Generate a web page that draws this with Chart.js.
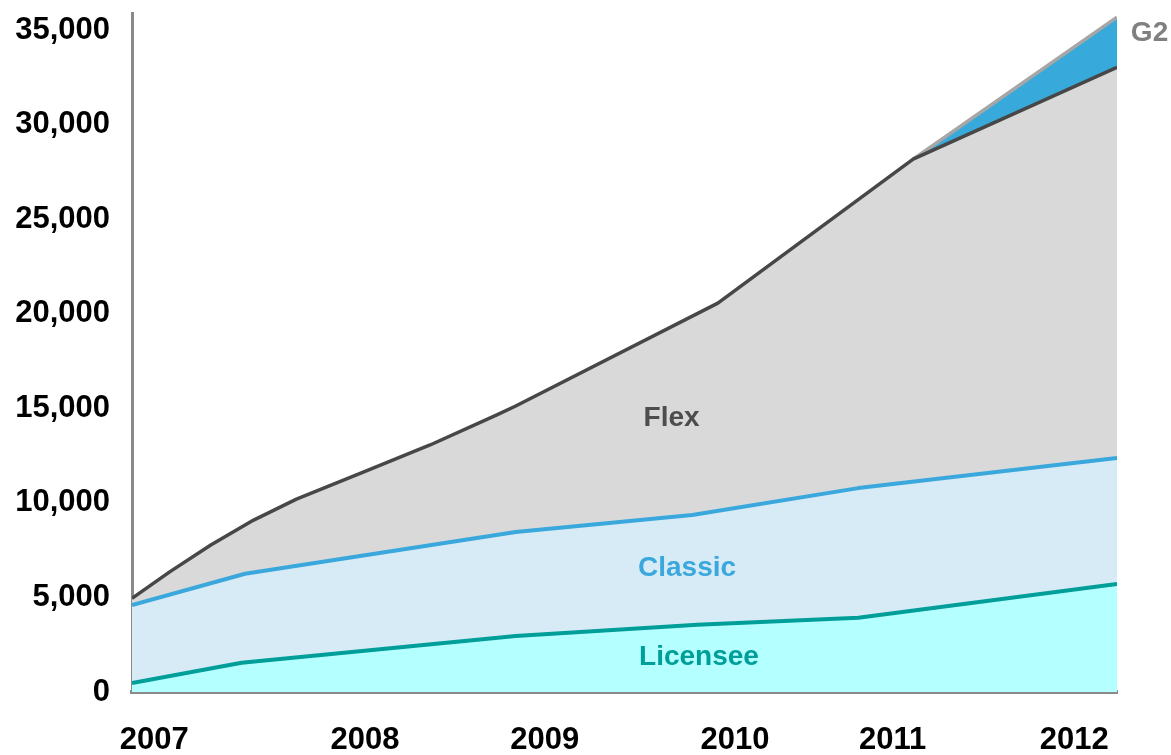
<!DOCTYPE html>
<html>
<head>
<meta charset="utf-8">
<script src="https://cdn.jsdelivr.net/npm/chart.js@4.4.1/dist/chart.umd.min.js"></script>
<style>
  html, body { margin: 0; padding: 0; background: #fff; }
  canvas { display: block; }
</style>
</head>
<body>
<canvas id="chart" width="1171" height="755"></canvas>
<script>
// x values are fractional years, y values are cumulative (top edge of each band)
const licenseeX = [2007.0, 2007.64, 2009.24, 2010.30, 2011.24, 2012.75];
const licenseeY = [480, 1550, 2960, 3560, 3930, 5710];

const classicX = [2007.0, 2007.66, 2009.24, 2010.27, 2011.24, 2012.75];
const classicY = [4600, 6250, 8460, 9355, 10780, 12370];

const flexX = [2007.0, 2007.22, 2007.46, 2007.71, 2007.96, 2008.35, 2008.74,
               2009.13, 2009.24, 2010.42, 2011.56, 2012.75];
const flexY = [4950, 6350, 7770, 9090, 10200, 11630, 13060,
               14650, 15120, 20560, 28170, 33030];

const g2X = [2011.56, 2012.75];
const g2Y = [28170, 35680];

const xTickPos = [2007.13, 2008.36, 2009.41, 2010.52, 2011.44, 2012.50];
const xTickLabels = ['2007', '2008', '2009', '2010', '2011', '2012'];
const yTicks = [0, 5000, 10000, 15000, 20000, 25000, 30000, 35000];

const FONT = "'Liberation Sans', Arial, sans-serif";

function pts(xs, ys) {
    return xs.map((x, i) => ({ x: x, y: ys[i] }));
}

// band names written inside the chart
const bandLabels = [
    { text: 'Flex', x: 2010.15, y: 14490, color: '#4d4d4d' },
    { text: 'Classic', x: 2010.24, y: 6560, color: '#3aa8dc' },
    { text: 'Licensee', x: 2010.31, y: 1850, color: '#009e99' },
    { text: 'G2', x: 2012.94, y: 34840, color: '#808080' }
];

const bandText = {
    id: 'bandText',
    afterDatasetsDraw(chart) {
        const { ctx, scales: { x, y } } = chart;
        ctx.save();
        ctx.font = 'bold 28px ' + FONT;
        ctx.textAlign = 'center';
        ctx.textBaseline = 'middle';
        for (const l of bandLabels) {
            ctx.fillStyle = l.color;
            ctx.fillText(l.text, x.getPixelForValue(l.x), y.getPixelForValue(l.y));
        }
        ctx.restore();
    }
};

new Chart(document.getElementById('chart'), {
    type: 'line',
    data: {
        datasets: [
            {
                label: 'Licensee',
                data: pts(licenseeX, licenseeY),
                borderColor: '#009e99',
                backgroundColor: '#b4ffff',
                borderWidth: 4,
                fill: 'origin'
            },
            {
                label: 'Classic',
                data: pts(classicX, classicY),
                borderColor: '#3aa8dc',
                backgroundColor: '#d7ebf6',
                borderWidth: 4,
                fill: 'origin'
            },
            {
                label: 'Flex',
                data: pts(flexX, flexY),
                borderColor: '#474747',
                backgroundColor: '#d9d9d9',
                borderWidth: 3.5,
                fill: 'origin'
            },
            {
                label: 'G2',
                data: pts(g2X, g2Y),
                borderColor: '#a6a6a6',
                backgroundColor: '#38a9db',
                borderWidth: 3.5,
                fill: 'origin'
            }
        ]
    },
    plugins: [bandText],
    options: {
        responsive: false,
        animation: false,
        layout: {
            padding: { left: 0, right: 54, top: 13, bottom: 0 }
        },
        elements: {
            point: { radius: 0 },
            line: { tension: 0, borderJoinStyle: 'round' }
        },
        scales: {
            x: {
                type: 'linear',
                min: 2007.0,
                max: 2012.75,
                grid: { display: false, drawTicks: false },
                border: { display: true, color: '#8a8a8a', width: 4 },
                afterBuildTicks: (scale) => {
                    scale.ticks = xTickPos.map(v => ({ value: v }));
                },
                afterFit: (scale) => {
                    scale.height = 63;
                    scale.paddingLeft = 0;
                    scale.paddingRight = 0;
                },
                ticks: {
                    autoSkip: false,
                    maxRotation: 0,
                    padding: 30,
                    color: '#000',
                    font: { family: FONT, size: 31, weight: 'bold' },
                    callback: (value) => {
                        const i = xTickPos.indexOf(value);
                        return i >= 0 ? xTickLabels[i] : '';
                    }
                }
            },
            y: {
                min: 0,
                max: 35900,
                grid: { display: false, drawTicks: false },
                border: { display: true, color: '#8a8a8a', width: 3 },
                afterBuildTicks: (scale) => {
                    scale.ticks = yTicks.map(v => ({ value: v }));
                },
                afterFit: (scale) => {
                    scale.width = 132;
                    scale.paddingTop = 0;
                    scale.paddingBottom = 0;
                },
                ticks: {
                    padding: 22,
                    color: '#000',
                    font: { family: FONT, size: 31, weight: 'bold' },
                    callback: (value) => value.toLocaleString('en-US')
                }
            }
        },
        plugins: {
            legend: { display: false },
            tooltip: { enabled: false }
        }
    }
});
</script>
</body>
</html>
